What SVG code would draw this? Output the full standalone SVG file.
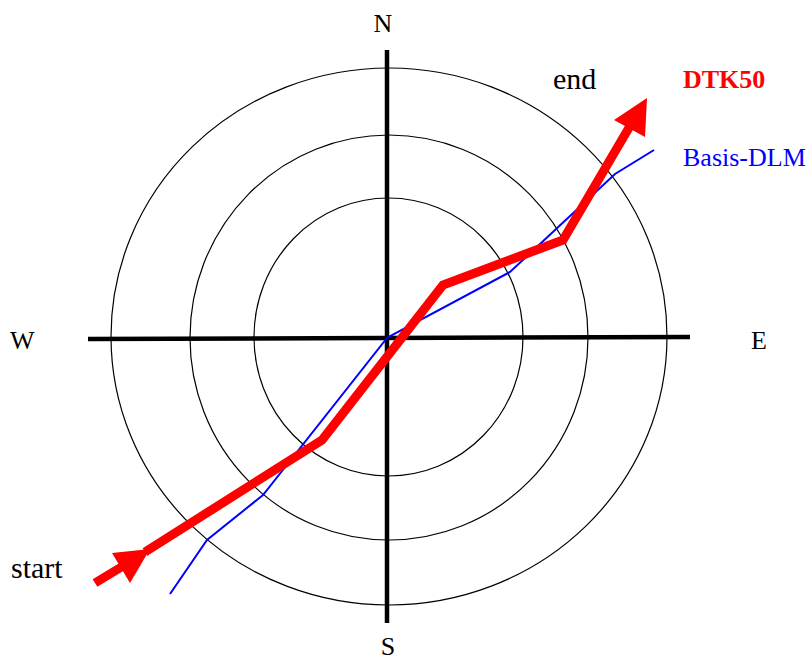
<svg xmlns="http://www.w3.org/2000/svg" width="810" height="662" viewBox="0 0 810 662">
<style>
.ring{fill:none;stroke:#000;stroke-width:1.2}
.axis{stroke:#000;stroke-width:4.5;fill:none}
.lbl{font-family:"Liberation Serif","Times New Roman",serif;font-size:26px;fill:#000}
.big{font-size:30px}
.red{fill:none;stroke:#ff0000;stroke-width:9;stroke-linejoin:miter}
.blue{fill:none;stroke:#0000ff;stroke-width:2}
.head{fill:#ff0000}
</style>
<rect width="810" height="662" fill="#fff"/>
<g id="rings">
<ellipse class="ring" cx="389" cy="336.5" rx="278" ry="268.5"/>
<ellipse class="ring" cx="389" cy="337.5" rx="199" ry="202.5"/>
<ellipse class="ring" cx="388.5" cy="337" rx="134.5" ry="139"/>
</g>
<g id="axes">
<line class="axis" x1="387" y1="50" x2="387" y2="623"/>
<line class="axis" x1="88" y1="339" x2="690" y2="337"/>
</g>
<g id="labels">
<text class="lbl" x="383" y="32" text-anchor="middle">N</text>
<text class="lbl" x="388" y="655" text-anchor="middle">S</text>
<text class="lbl" x="10" y="349">W</text>
<text class="lbl" x="751" y="349">E</text>
<text class="lbl big" x="11" y="578">start</text>
<text class="lbl big" x="553" y="89">end</text>
<text class="lbl" x="683" y="88" style="font-weight:bold;fill:#ff0000">DTK50</text>
<text class="lbl" x="683" y="166" style="fill:#0000ff">Basis-DLM</text>
</g>
<g id="connectors">
<polyline id="basis-dlm" class="blue" points="170,594 207,540 263,495 387,338 392,335 510,272 615,174 654,150"/>
<g id="dtk50">
<line class="red" x1="95" y1="583" x2="123" y2="566"/>
<polygon class="head" points="112,553 130,583 150,549"/>
<polyline class="red" points="145,552 322,440 443,285 563,240 630,126"/>
<polygon class="head" points="614,120 645,137 647,98"/>
</g>
</g>
</svg>
